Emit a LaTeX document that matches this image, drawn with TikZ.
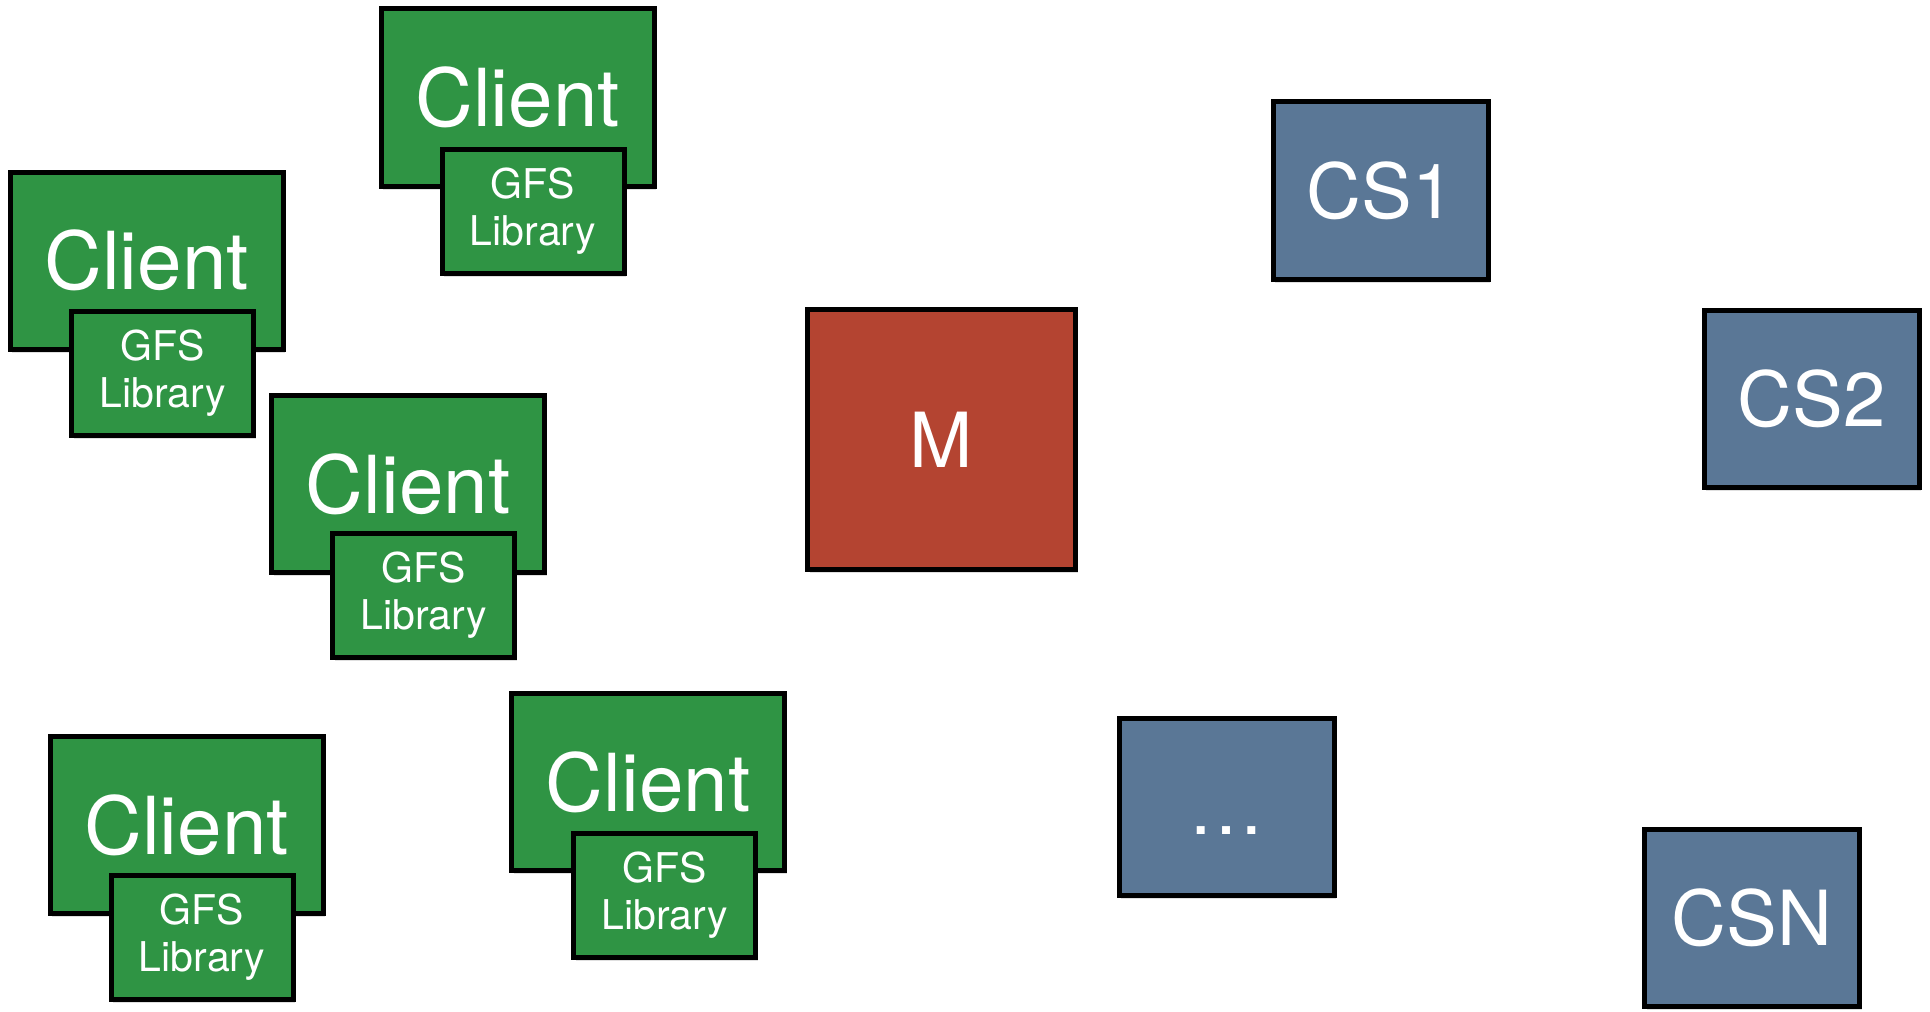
\documentclass[tikz,border=0pt]{standalone}
\usepackage{fontspec}
\setmainfont{TeX Gyre Heros}
\usetikzlibrary{shadows}
\definecolor{clgreen}{HTML}{2F9444}
\definecolor{mred}{HTML}{B44431}
\definecolor{csblue}{HTML}{5A7796}
\tikzset{
  box/.style={draw=black, line width=2.5pt, inner sep=0pt, text=white,
    drop shadow={opacity=0.25, shadow xshift=1.2pt, shadow yshift=-1.8pt}},
  clientbox/.style={box, fill=clgreen, minimum width=136.5pt, minimum height=88.5pt,
    font=\fontsize{40}{44}\selectfont},
  libbox/.style={box, fill=clgreen, minimum width=91pt, minimum height=62pt,
    align=center, font=\fontsize{20.5}{23.5}\selectfont},
  masterbox/.style={box, fill=mred, minimum width=134pt, minimum height=130pt,
    font=\fontsize{38}{42}\selectfont},
  csbox/.style={box, fill=csblue, minimum width=107.5pt, minimum height=88.5pt,
    font=\fontsize{38}{42}\selectfont},
}
\begin{document}
\begin{tikzpicture}[x=0.5pt, y=-0.5pt]
\useasboundingbox[fill=white] (0,0) rectangle (1930,1011);
% clients with GFS library
\node[clientbox] (c1) at (517.5,97.5) {Client};
\node[libbox] (l1) at (533,211) {GFS\\Library};
\node[clientbox] (c2) at (146.5,260.5) {Client};
\node[libbox] (l2) at (162.5,373.5) {GFS\\Library};
\node[clientbox] (c3) at (408,484) {Client};
\node[libbox] (l3) at (423.5,595.5) {GFS\\Library};
\node[clientbox] (c4) at (186.5,825) {Client};
\node[libbox] (l4) at (202,937.5) {GFS\\Library};
\node[clientbox] (c5) at (648,782) {Client};
\node[libbox] (l5) at (664.5,895) {GFS\\Library};
% master
\node[masterbox] (m) at (941.5,439.5) {M};
% chunkservers
\node[csbox] (cs1) at (1380.5,190.5) {CS1};
\node[csbox] (cs2) at (1811.5,398.5) {CS2};
\node[csbox] (csd) at (1226.5,806.5) {\vphantom{C}…};
\node[csbox] (csn) at (1752,917.5) {CSN};
\end{tikzpicture}
\end{document}
